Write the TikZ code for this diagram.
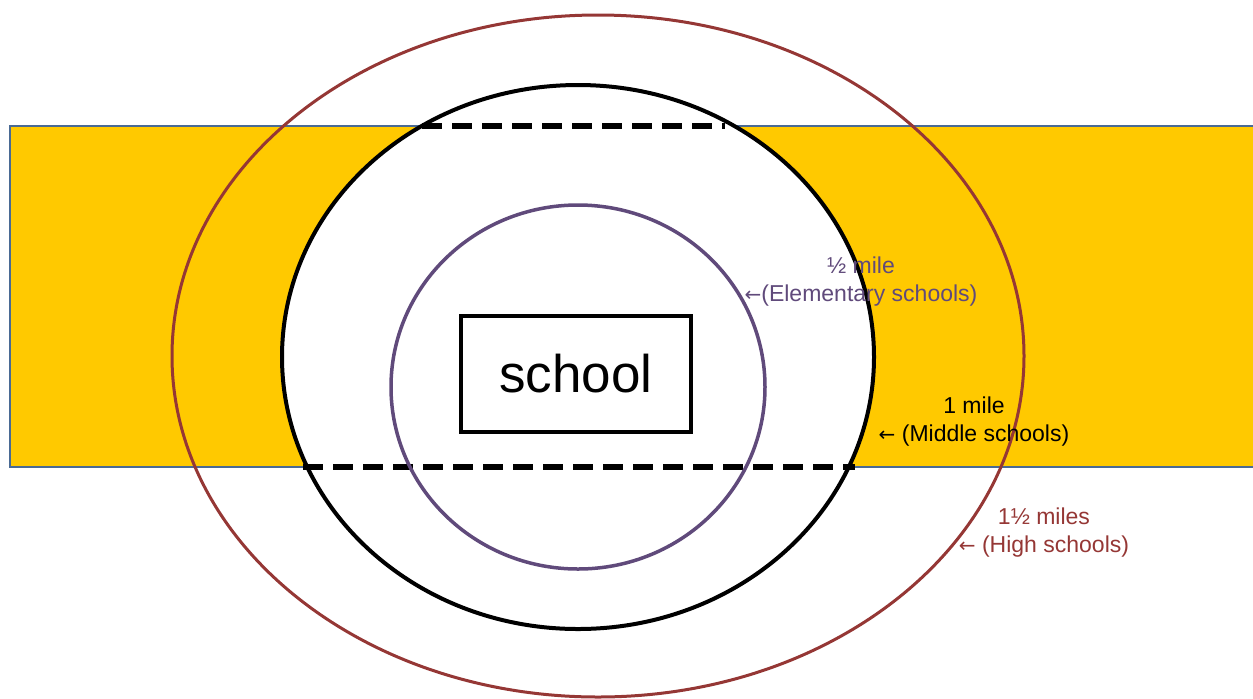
\documentclass[tikz,border=0pt]{standalone}
\usepackage{fontspec}
\setmainfont{Liberation Sans}
\newfontfamily\arrowfont{DejaVu Sans}
\usetikzlibrary{shapes.geometric}
\definecolor{bandyellow}{HTML}{FFC900}
\definecolor{bandblue}{HTML}{4A6A94}
\definecolor{highred}{HTML}{953735}
\definecolor{elempurple}{HTML}{604A7B}
\newcommand{\larr}{{\arrowfont\fontsize{10}{14}\selectfont ←}}

\begin{document}
\begin{tikzpicture}[x=0.5pt,y=-0.5pt,
  ring/.style={ellipse, inner sep=0pt, outer sep=0pt},
  lbl/.style={align=center, inner sep=0pt, font=\fontsize{11.5}{14}\selectfont},
  edge/.style={line width=3pt, dash pattern=on 10pt off 5pt}]
\useasboundingbox (0,0) rectangle (1253,698);

% the band
\draw[bandblue, line width=1.25pt, fill=bandyellow] (10,126) rectangle (1262,467);

\node[ring, draw=black, fill=white, line width=2pt, minimum width=296pt, minimum height=272pt, name=middle] at (578,357) {};

\coordinate (tl) at (422,126);
\coordinate (tr) at (725,126);
\coordinate (bl) at (303,467);
\coordinate (br) at (855,467);
\draw[edge] (tl) -- (tr);
\draw[edge] (bl) -- (br);

\node[ring, draw=elempurple, line width=1.75pt, minimum width=187pt, minimum height=182pt, name=inner] at (578,387) {};

\node[draw, line width=2pt, minimum width=115pt, minimum height=58pt, font=\fontsize{26.5}{30}\selectfont, name=school] at (576,374) {school};

\node[ring, draw=highred, line width=1.5pt, minimum width=426pt, minimum height=341pt, name=outer] at (598,356) {};

%labels
\node[lbl, text=elempurple, name=lblelem] at (861,282) {½ mile\\\larr(Elementary schools)};
\node[lbl, name=lblmid] at (974,422) {1 mile\\\larr\ (Middle schools)};
\node[lbl, text=highred, name=lblhigh] at (1044,533) {1½ miles\\\larr\ (High schools)};
\end{tikzpicture}
\end{document}
